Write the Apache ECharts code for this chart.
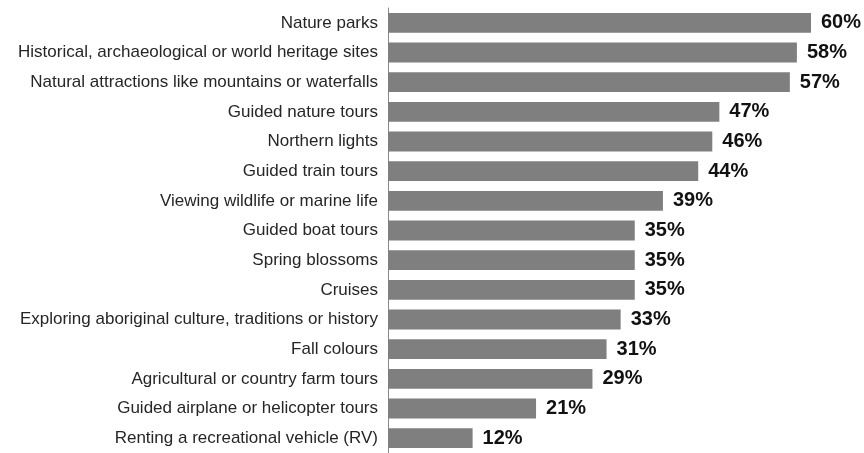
<!DOCTYPE html>
<html><head><meta charset="utf-8">
<script src="https://cdn.jsdelivr.net/npm/echarts@6/dist/echarts.min.js"></script>
<style>html,body{margin:0;padding:0;background:#fff}#c{width:864px;height:453px}</style>
</head><body><div id="c"></div>
<script>
const categories = [
  "Nature parks",
  "Historical, archaeological or world heritage sites",
  "Natural attractions like mountains or waterfalls",
  "Guided nature tours",
  "Northern lights",
  "Guided train tours",
  "Viewing wildlife or marine life",
  "Guided boat tours",
  "Spring blossoms",
  "Cruises",
  "Exploring aboriginal culture, traditions or history",
  "Fall colours",
  "Agricultural or country farm tours",
  "Guided airplane or helicopter tours",
  "Renting a recreational vehicle (RV)"
];
const values = [60, 58, 57, 47, 46, 44, 39, 35, 35, 35, 33, 31, 29, 21, 12];

const chart = echarts.init(document.getElementById('c'), null, {renderer: 'canvas'});
chart.setOption({
  animation: false,
  backgroundColor: '#ffffff',
  grid: {left: 388, right: 53, top: 8, bottom: -5, containLabel: false},
  xAxis: {type: 'value', min: 0, max: 60, show: false},
  yAxis: {
    type: 'category', data: categories, inverse: true,
    axisLine: {show: true, lineStyle: {color: '#888888', width: 1}},
    axisTick: {show: false},
    axisLabel: {margin: 10, color: '#262626', fontFamily: 'Liberation Sans, Arial, sans-serif', fontSize: 17}
  },
  series: [{
    type: 'bar', data: values, barCategoryGap: '33%',
    itemStyle: {color: '#7f7f7f'},
    label: {show: true, position: 'right', distance: 10, formatter: '{c}%',
      color: '#111111', fontWeight: 'bold', fontSize: 20, fontFamily: 'Liberation Sans, Arial, sans-serif'}
  }]
});
</script></body></html>
